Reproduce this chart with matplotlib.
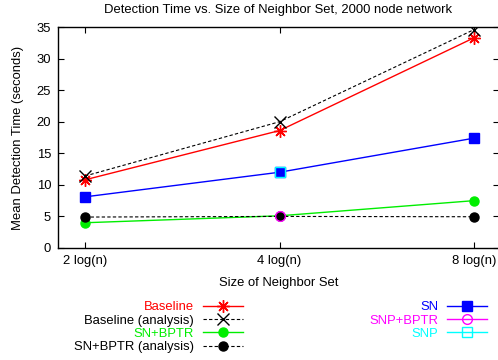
import matplotlib
matplotlib.use('Agg')
import matplotlib.pyplot as plt
import numpy as np

plt.rcParams['font.family'] = ['Liberation Sans', 'DejaVu Sans']
plt.rcParams['font.size'] = 9.4

# data
sizes = ['2 log(n)', '4 log(n)', '8 log(n)']
baseline = [10.8, 18.6, 33.3]
baseline_an = [11.4, 20.0, 34.6]
sn_bptr = [4.0, 5.1, 7.5]
sn_bptr_an = [4.9, 5.0, 4.95]
sn = [8.1, 12.0, 17.4]
snp_bptr = [5.1]
snp = [12.0]
snp_idx = [1]

fig = plt.figure(figsize=(4.98, 3.6), dpi=100)
ax = fig.add_axes([58/498, 1-248/360, 440.5/498, 221/360])
x = np.arange(len(sizes))

l1, = ax.plot(x, baseline, color='red', lw=1, marker=(8, 2, 0), ms=9, mew=1, label='Baseline')
l2, = ax.plot(x, baseline_an, color='black', lw=0.8, ls=(0, (3, 2)), marker='x', ms=8, mew=1,
              label='Baseline (analysis)')
l3, = ax.plot(x, sn_bptr, color='#00ee00', lw=1, marker='o', ms=6.5, label='SN+BPTR')
l4, = ax.plot(x, sn_bptr_an, color='black', lw=0.8, ls=(0, (3, 2)), marker='o', ms=6.5,
              label='SN+BPTR (analysis)')
l5, = ax.plot(x, sn, color='blue', lw=1, marker='s', ms=7.5, label='SN')
l6, = ax.plot(snp_idx, snp_bptr, color='magenta', lw=1, marker='o', ms=7, mfc='none', mew=1,
              label='SNP+BPTR')
l7, = ax.plot(snp_idx, snp, color='cyan', lw=1, marker='s', ms=7, mfc='none', mew=1, label='SNP')

ax.set_xlim(-0.139, 2.125)
ax.set_ylim(0, 35)
ax.set_xticks(x)
ax.set_xticklabels(sizes)
ax.set_yticks(np.arange(0, 36, 5))
ax.tick_params(direction='in', length=4, width=0.8, top=True, right=True, pad=5)
for s in ax.spines.values():
    s.set_linewidth(1)

ax.set_title('Detection Time vs. Size of Neighbor Set, 2000 node network', fontsize=9.4, pad=10)
ax.set_xlabel('Size of Neighbor Set', labelpad=7)
ax.set_ylabel('Mean Detection Time (seconds)', labelpad=9)

leg_kw = dict(loc='upper right', markerfirst=False, frameon=False, borderpad=0, borderaxespad=0,
              handlelength=3.1, handletextpad=0.65, labelspacing=0.1, labelcolor='linecolor')
leg1 = fig.legend(handles=[l1, l2, l3, l4], bbox_to_anchor=(243/498, 1-301/360), **leg_kw)
leg2 = fig.legend(handles=[l5, l6, l7], bbox_to_anchor=(487/498, 1-301/360), **leg_kw)
# analysis labels are black in the reference
for t in leg1.get_texts():
    if 'analysis' in t.get_text():
        t.set_color('black')

fig.savefig('out.png', dpi=100)
